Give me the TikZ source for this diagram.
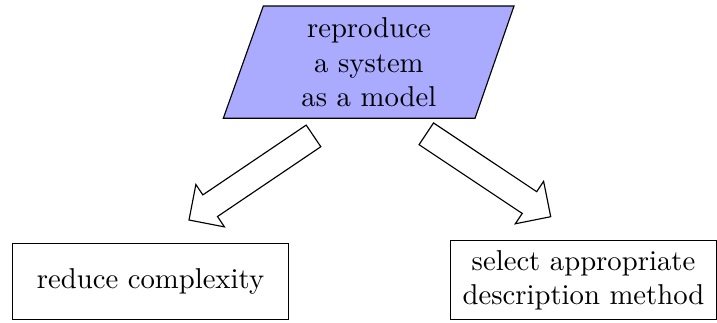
\documentclass[tikz,border=0pt]{standalone}
\usetikzlibrary{calc}
\definecolor{paracol}{HTML}{AAAAFF}
\newcommand\blockarr[2]{%
  \coordinate (ba-b) at ($(#2)!8.9pt!(#1)$);
  \draw[blockarrow] ($(#1)!4.55pt!90:(#2)$) -- ($(ba-b)!4.55pt!90:(#2)$)
    -- ($(ba-b)!8.9pt!90:(#2)$) -- (#2) -- ($(ba-b)!8.9pt!-90:(#2)$)
    -- ($(ba-b)!4.55pt!-90:(#2)$) -- ($(#1)!4.55pt!-90:(#2)$) -- cycle;}
\begin{document}
\begin{tikzpicture}[x=0.3484pt,y=-0.3484pt, line width=0.4pt,
  box/.style={draw, inner sep=0pt, align=center},
  para/.style={draw, fill=paracol, line join=miter},
  blockarrow/.style={draw, fill=white, line join=miter}]
\useasboundingbox (0,0) rectangle (717,322);
% top parallelogram
\coordinate (mc) at (368.9,62.2);
\path[para] ($(mc)+(-105.6,-56.2)$) -- ($(mc)+(145.1,-56.2)$)
  -- ($(mc)+(106.1,56.1)$) -- ($(mc)+(-145.6,56.1)$) -- cycle;
\node[align=center, inner sep=0pt] (model) at (mc) {reproduce\\a system\\as a model};
% boxes
\node[box, minimum width=96pt, minimum height=26.5pt] (reduce) at (150.5,281.3) {reduce complexity};
\node[box, minimum width=92.5pt, minimum height=27.5pt] (select) at (583.5,280.2) {select appropriate\\description method};
% block arrows
\coordinate (lt) at (313.5,135.9);
\coordinate (lp) at (189,220);
\coordinate (rt) at (426.3,133.8);
\coordinate (rp) at (550.7,216.7);
\blockarr{lt}{lp}
\blockarr{rt}{rp}
\end{tikzpicture}
\end{document}
